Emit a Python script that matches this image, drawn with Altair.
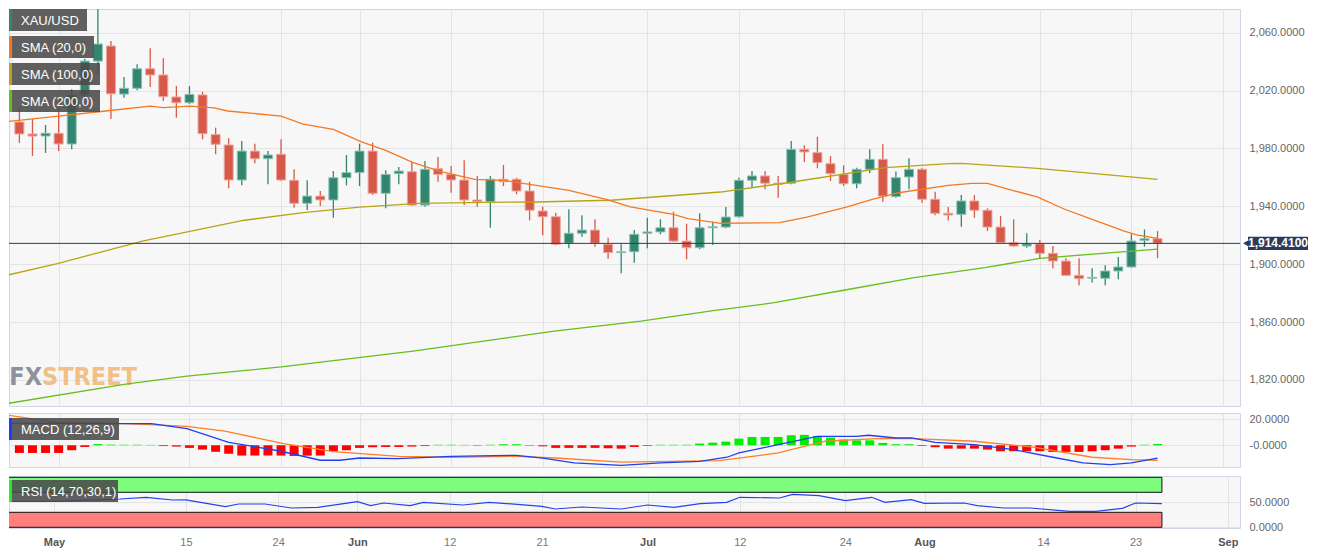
import altair as alt
import pandas as pd

# ---------------- data ----------------
sessions = pd.bdate_range("2023-04-26", "2023-08-25")
calendar = pd.bdate_range("2023-04-25", "2023-09-01")

opens = [1998.3, 1990.0, 1988.6, 1990.5, 1983.1, 2017.0, 2040.4, 2050.8, 2017.6, 2021.6,
         2035.1, 2030.8, 2015.6, 2011.6, 2017.0, 1989.6, 1982.4, 1958.2, 1978.2, 1972.9,
         1976.0, 1958.0, 1942.1, 1947.1, 1944.4, 1959.8, 1963.3, 1978.2, 1949.0, 1962.6,
         1963.9, 1940.9, 1966.0, 1962.1, 1958.2, 1944.4, 1943.2, 1958.7, 1958.7, 1950.6,
         1936.8, 1932.8, 1914.5, 1921.4, 1923.6, 1913.8, 1908.0, 1908.6, 1921.4, 1922.3,
         1925.2, 1916.0, 1911.4, 1925.2, 1925.7, 1932.8, 1958.0, 1961.0, 1956.0, 1956.0,
         1979.4, 1977.1, 1969.5, 1962.1, 1955.6, 1965.6, 1972.5, 1946.7, 1960.3, 1965.6,
         1944.9, 1935.2, 1934.5, 1943.7, 1937.3, 1925.7, 1914.9, 1912.6, 1914.1, 1907.5,
         1902.2, 1892.3, 1890.3, 1890.3, 1895.3, 1898.1, 1916.5, 1917.6]
highs = [2008.7, 2000.4, 1996.2, 2007.3, 2021.0, 2042.0, 2080.0, 2054.3, 2029.4, 2038.2,
         2049.2, 2042.3, 2023.2, 2023.2, 2019.2, 1994.4, 1987.0, 1985.2, 1983.3, 1978.2,
         1986.3, 1965.6, 1958.0, 1950.6, 1964.4, 1975.5, 1983.3, 1984.0, 1964.9, 1967.2,
         1970.8, 1971.3, 1974.1, 1967.9, 1971.8, 1961.0, 1961.0, 1968.6, 1959.8, 1957.0,
         1939.8, 1935.6, 1938.0, 1933.8, 1931.0, 1918.3, 1913.8, 1923.6, 1932.1, 1931.0,
         1936.3, 1928.0, 1935.2, 1929.4, 1939.5, 1959.8, 1964.4, 1964.4, 1961.0, 1985.2,
         1982.2, 1988.1, 1974.8, 1968.4, 1966.7, 1979.4, 1982.9, 1964.0, 1973.2, 1966.7,
         1950.0, 1939.5, 1947.8, 1947.8, 1938.6, 1933.3, 1931.0, 1921.4, 1916.7, 1912.6,
         1904.1, 1904.1, 1897.2, 1899.3, 1905.0, 1920.7, 1924.0, 1922.9]
lows = [1983.8, 1974.8, 1976.9, 1978.2, 1979.5, 2014.0, 2031.5, 2000.3, 2015.0, 2020.2,
        2022.5, 2012.8, 2001.3, 2010.7, 1986.3, 1976.0, 1952.5, 1954.5, 1969.7, 1955.2,
        1957.5, 1939.1, 1937.5, 1940.2, 1932.1, 1954.5, 1954.0, 1947.8, 1938.6, 1955.2,
        1940.2, 1939.8, 1957.0, 1949.4, 1940.9, 1939.8, 1925.2, 1954.0, 1948.3, 1930.3,
        1920.0, 1913.1, 1911.0, 1919.0, 1912.1, 1903.8, 1893.7, 1901.0, 1911.0, 1920.7,
        1915.5, 1903.4, 1910.3, 1913.3, 1924.8, 1932.1, 1952.9, 1951.8, 1946.0, 1955.2,
        1970.6, 1966.3, 1957.5, 1954.0, 1952.5, 1962.8, 1943.2, 1946.0, 1951.8, 1942.5,
        1933.8, 1930.3, 1925.9, 1932.1, 1922.9, 1914.5, 1912.1, 1911.4, 1904.1, 1897.2,
        1891.9, 1885.4, 1887.3, 1885.4, 1889.6, 1897.6, 1912.1, 1904.1]
closes = [1990.0, 1988.6, 1990.5, 1983.1, 2017.0, 2040.4, 2052.2, 2017.8, 2021.6, 2035.1,
          2030.8, 2015.8, 2011.6, 2017.4, 1990.2, 1982.9, 1958.2, 1978.2, 1972.9, 1975.5,
          1958.2, 1942.1, 1947.1, 1944.4, 1959.8, 1963.3, 1978.2, 1949.0, 1962.1, 1964.4,
          1940.9, 1965.6, 1962.1, 1958.2, 1944.4, 1943.2, 1958.7, 1957.0, 1950.6, 1937.3,
          1932.8, 1913.8, 1921.4, 1923.6, 1914.5, 1908.0, 1908.6, 1920.7, 1922.3, 1925.2,
          1916.0, 1911.4, 1925.2, 1925.9, 1932.6, 1958.0, 1961.0, 1956.0, 1955.2, 1979.4,
          1977.6, 1970.2, 1962.6, 1955.6, 1965.6, 1972.5, 1947.1, 1959.8, 1965.6, 1944.9,
          1935.2, 1934.0, 1943.7, 1937.3, 1925.7, 1914.9, 1912.6, 1914.1, 1907.5, 1902.2,
          1892.3, 1890.0, 1890.9, 1895.3, 1898.1, 1916.0, 1917.6, 1914.41]
last_price = 1914.41

sma20_t = [0, 4, 7.6, 11, 12, 14, 15.9, 16.9, 21, 22.7, 25, 27.1, 29, 31.1, 33.3, 35.8, 37.9, 40, 43, 46,
           47.7, 51, 52.1, 54.6, 59.1, 61.2, 64.2, 66.2, 68.2, 72, 73.8, 75, 77.1, 78.8, 80.9, 82.8, 85.4, 86.4, 88]
sma20_v = [1998.5, 2002.4, 2005.9, 2009.3, 2008.2, 2009.3, 2008.0, 2005.9, 2002.4, 1996.9,
           1993.2, 1984.7, 1978.7, 1970.2, 1963.9, 1958.7, 1958.0, 1955.2, 1951.1, 1944.4,
           1939.7, 1934.5, 1931.5, 1928.3, 1928.7, 1932.6, 1939.5, 1944.9, 1949.4, 1954.5,
           1955.9, 1955.9, 1950.6, 1946.5, 1938.0, 1931.7, 1923.0, 1920.2, 1917.9]
sma100_t = [0, 3.9, 10.4, 18.2, 22.7, 27.0, 31.6, 36.6, 40.4, 46.2, 54.6, 59.7, 67.2, 72, 73, 78.8, 82.6, 88]
sma100_v = [1892.3, 1900.4, 1916.0, 1930.4, 1935.6, 1939.5, 1942.1, 1942.8, 1943.0, 1944.2,
            1949.9, 1956.3, 1966.7, 1969.5, 1969.7, 1966.3, 1963.2, 1958.7]
sma200_t = [0, 9, 13.8, 21, 31.1, 41.9, 48.5, 53.9, 58.7, 64.0, 69.4, 74.8, 79, 88]
sma200_v = [1803.6, 1817.0, 1822.7, 1829.0, 1840.0, 1853.8, 1860.7, 1867.7, 1873.4, 1882.0,
            1890.7, 1897.6, 1904.1, 1910.5]

hist_v = [-5.9, -5.9, -5.9, -5.9, -3.8, -1.3, 1.0, 0.5, 0.4, 0.4, 0.3, -0.6, -1.0, -2.0, -3.3,
          -5.0, -6.5, -7.9, -7.9, -7.9, -7.9, -8.2, -8.0, -7.9, -4.6, -3.8, -2.0, -1.5, -1.3, -1.3,
          -1.0, -0.6, 0.4, 0.4, 0.3, -0.3, 0.4, 0.8, 0.8, -0.3, -0.8, -2.0, -2.0, -2.0, -2.0,
          -2.3, -2.6, -1.3, -0.5, 0.4, 0.4, 0.4, 1.3, 2.0, 2.8, 5.1, 6.4, 6.4, 6.4, 7.7,
          8.0, 7.2, 5.9, 4.4, 3.8, 3.8, 1.8, 0.8, 0.8, -0.5, -1.5, -2.6, -2.6, -2.6, -3.3,
          -4.6, -4.6, -4.6, -4.6, -5.1, -5.1, -5.1, -4.6, -3.8, -2.6, -1.0, 0.4, 1.0]
macd_t = [0, 8.7, 11.1, 13.8, 17, 21, 24, 25.5, 27, 29.9, 34, 39, 41, 43.4, 47, 50, 53, 55.1, 56, 59,
          62, 65, 65.9, 68, 69.2, 71, 74, 77, 80, 82.3, 84.4, 86, 88]
macd_v = [17.1, 16.6, 16.6, 12.8, 2.3, -4.6, -11.5, -11.5, -9.8, -10.3, -8.5, -7.7, -9.8, -13.6,
          -15.4, -13.6, -12.3, -9.2, -5.9, 0.5, 6.9, 6.9, 7.7, 5.6, 5.6, 2.3, 0.5, -3.4, -9.2,
          -13.6, -14.9, -13.6, -9.8]
signal_t = [0, 3.9, 9, 11.4, 13.8, 16.7, 21.2, 25, 30, 34, 39, 42, 47, 54.5, 59, 62.6, 66.5, 69.4,
            74, 78.5, 83, 86, 88]
signal_v = [23.3, 17.5, 16.6, 15.6, 14.5, 10.8, 1.3, -4.9, -8.5, -9.2, -8.5, -9.8, -13.0, -11.8,
            -5.9, 3.1, 5.1, 5.1, 3.1, -1.5, -9.2, -11.0, -11.5]
rsi_t = [0, 4, 9, 11, 13, 14, 17, 18, 20, 22, 24, 27, 28, 29, 31, 32, 35, 37, 41, 42, 44, 47, 49,
         51, 53, 55, 56, 59, 60, 62, 64, 66, 67, 69, 70, 73, 74, 76, 78, 81, 83, 85, 86, 88]
rsi_v = [52, 52, 56.6, 60, 54.6, 55, 41.3, 46.6, 46.6, 38.6, 40, 51.3, 43.3, 48.6, 43.3, 50, 44.6,
         50, 42, 36.6, 40.6, 36.6, 44.6, 40, 47.3, 50, 60, 58.6, 66, 63.3, 53.3, 60, 50, 55.3,
         48, 48.6, 43.3, 38.6, 38.6, 32, 32, 38, 48.6, 47.3]
rsi_levels = [30, 70]

tick_dates = ["2023-05-01", "2023-05-15", "2023-05-24", "2023-06-01", "2023-06-12", "2023-06-21",
              "2023-07-03", "2023-07-12", "2023-07-24", "2023-08-01", "2023-08-14", "2023-08-23",
              "2023-09-01"]
tick_labels = ["May", "15", "24", "Jun", "12", "21", "Jul", "12", "24", "Aug", "14", "23", "Sep"]
month_labels = ["May", "Jun", "Jul", "Aug", "Sep"]

price_ticks = list(range(1820, 2061, 20))

# ---------------- styling ----------------
FONT = "Liberation Sans"
WM_FONT = "'Liberation Sans Narrow', 'DejaVu Sans Condensed', 'Roboto Condensed', 'Liberation Sans', sans-serif"
W = 1231
H_P, H_M, H_R = 397, 54, 52
X_DOM = [0.588, 93.92]
P_DOM = [1802.0, 2076.4]
M_DOM = [-16.7, 24.8]
R_DOM = [-1.4, 102.6]
GRID = "#e4e4e4"
GREEN, RED = "#32866f", "#d6594a"
GREEN_EDGE, RED_EDGE = "#8fc2b4", "#eda79f"
ORANGE, OLIVE, LIME = "#f47a22", "#b7a514", "#66bf1a"
NAVY = "#2b3b5e"
BOX = "#4a4a4a"

t_idx = [calendar.get_loc(d) for d in sessions]
tick_pos = [calendar.get_loc(pd.Timestamp(d)) for d in tick_dates]
month_pos = [p for p, l in zip(tick_pos, tick_labels) if l in month_labels]

label_expr = "".join(f"datum.value == {p} ? '{l}' : " for p, l in zip(tick_pos, tick_labels)) + "''"
is_month = "indexof([" + ",".join(str(p) for p in month_pos) + "], datum.value) >= 0"

xs = alt.Scale(domain=X_DOM, nice=False, zero=False)


def x_axis(show):
    common = dict(values=tick_pos, grid=True, gridColor=GRID, ticks=False, domain=False, title=None)
    if show:
        return alt.Axis(labels=True, labelExpr=label_expr, labelFont=FONT, labelFontSize=11,
                        labelFlush=False, labelPadding=8,
                        labelFontWeight={"condition": {"test": is_month, "value": "bold"}, "value": "normal"},
                        labelColor={"condition": {"test": is_month, "value": "#555555"}, "value": "#777777"},
                        **common)
    return alt.Axis(labels=False, **common)


def y_axis(values, fmt=None, expr=None):
    kw = dict(orient="right", values=values, grid=True, gridColor=GRID, ticks=False, domain=False,
              labelPadding=9, labelFontSize=11, labelColor="#666666", labelFont=FONT, title=None)
    if fmt:
        kw["format"] = fmt
    if expr:
        kw["labelExpr"] = expr
    return alt.Axis(**kw)


one = pd.DataFrame({"k": [0]})


def legend_box(label, color, y0, w):
    box = alt.Chart(one).mark_rect(color=BOX, opacity=0.88).encode(
        x=alt.value(0), x2=alt.value(w), y=alt.value(y0), y2=alt.value(y0 + 22))
    strip = alt.Chart(one).mark_rect(color=color).encode(
        x=alt.value(0), x2=alt.value(3), y=alt.value(y0), y2=alt.value(y0 + 22))
    txt = alt.Chart(one).mark_text(align="left", baseline="middle", color="white", fontSize=13,
                                   font=FONT).encode(
        x=alt.value(12), y=alt.value(y0 + 11.5), text=alt.value(label))
    return [box, strip, txt]


# ---------------- price panel ----------------
cdf = pd.DataFrame({"t": t_idx, "open": opens, "high": highs, "low": lows, "close": closes})
up = cdf[cdf["close"] >= cdf["open"]]
dn = cdf[cdf["close"] < cdf["open"]]

X = alt.X("t:Q", scale=xs, axis=x_axis(False))
YP = alt.Y("low:Q", scale=alt.Scale(domain=P_DOM, nice=False, zero=False),
           axis=y_axis(price_ticks, fmt=",.4f"))

wm_fx = alt.Chart(one).mark_text(align="right", baseline="alphabetic", font=WM_FONT,
                                 fontWeight="bold", fontSize=25, color="#8c919b").encode(
    x=alt.value(33), y=alt.value(376), text=alt.value("FX"))
wm_st = alt.Chart(one).mark_text(align="left", baseline="alphabetic", font=WM_FONT,
                                 fontWeight="bold", fontSize=25, color="#f0c088").encode(
    x=alt.value(33), y=alt.value(376), text=alt.value("STREET"))


def candles(d, fill, edge):
    w = alt.Chart(d).mark_rule(strokeWidth=1.3, color=fill, clip=True).encode(x=X, y=YP, y2="high:Q")
    b = alt.Chart(d).mark_bar(width=9, strokeWidth=1, color=fill, stroke=edge, clip=True).encode(
        x=X, y="open:Q", y2="close:Q")
    return [w, b]


def line(ts, vs, color, width=1.3):
    return alt.Chart(pd.DataFrame({"t": ts, "v": vs})).mark_line(
        color=color, strokeWidth=width, clip=True).encode(x=X, y="v:Q")


pdf = pd.DataFrame({"p": [last_price]})
px_per_unit = H_P / (P_DOM[1] - P_DOM[0])
half = 6.6 / px_per_unit
pdf["top"] = pdf["p"] + half
pdf["bot"] = pdf["p"] - half

price_rule = alt.Chart(pdf).mark_rule(color=NAVY, strokeWidth=1).encode(y="p:Q")
price_box = alt.Chart(pdf).mark_rect(color=NAVY, clip=False).encode(
    x=alt.value(W + 8), x2=alt.value(W + 68), y="top:Q", y2="bot:Q")
price_arrow = alt.Chart(pdf).mark_point(shape="triangle-left", filled=True, size=45, color=NAVY,
                                        opacity=1, clip=False).encode(x=alt.value(W + 6), y="p:Q")
price_txt = alt.Chart(pdf).mark_text(color="white", fontWeight="bold", fontSize=12, font=FONT,
                                     align="center", baseline="middle", clip=False).encode(
    x=alt.value(W + 38), y="p:Q", text=alt.Text("p:Q", format=",.4f"))

legend_layers = []
for i, (lbl, c, w) in enumerate([("XAU/USD", GREEN, 78), ("SMA (20,0)", ORANGE, 85),
                                  ("SMA (100,0)", OLIVE, 91), ("SMA (200,0)", LIME, 91)]):
    legend_layers += legend_box(lbl, c, i * 27, w)

price = alt.layer(
    *candles(up, GREEN, GREEN_EDGE), *candles(dn, RED, RED_EDGE), wm_fx, wm_st,
    line(sma200_t, sma200_v, LIME), line(sma100_t, sma100_v, OLIVE), line(sma20_t, sma20_v, ORANGE),
    price_rule, price_box, price_arrow, price_txt, *legend_layers
).properties(width=W, height=H_P)

# ---------------- MACD panel ----------------
hdf = pd.DataFrame({"t": t_idx, "h": hist_v})
XM = alt.X("t:Q", scale=xs, axis=x_axis(False))
YM = alt.Y("h:Q", scale=alt.Scale(domain=M_DOM, nice=False, zero=False),
           axis=y_axis([0, 20], expr="datum.value == 0 ? '-0.0000' : format(datum.value, ',.4f')"))
hist_pos = alt.Chart(hdf[hdf["h"] >= 0]).mark_bar(width=9, color="#00ee00", clip=True).encode(
    x=XM, y=YM, y2=alt.datum(0))
hist_neg = alt.Chart(hdf[hdf["h"] < 0]).mark_bar(width=9, color="#ff0000", clip=True).encode(
    x=XM, y=YM, y2=alt.datum(0))


def mline(ts, vs, color):
    return alt.Chart(pd.DataFrame({"t": ts, "h": vs})).mark_line(
        color=color, strokeWidth=1.3, clip=True).encode(x=XM, y="h:Q")


macd = alt.layer(
    hist_pos, hist_neg, mline(signal_t, signal_v, "#ff7f27"), mline(macd_t, macd_v, "#2040f0"),
    *legend_box("MACD (12,26,9)", "#1a3cff", 5, 110)
).properties(width=W, height=H_M)

# ---------------- RSI panel ----------------
XR = alt.X("t:Q", scale=xs, axis=x_axis(True))
YR = alt.Y("v:Q", scale=alt.Scale(domain=R_DOM, nice=False, zero=False), axis=y_axis([0, 50], fmt=".4f"))
band_ob = pd.DataFrame({"t": [0], "t1": [t_idx[-1]], "v": [rsi_levels[1]], "v2": [100]})
band_os = pd.DataFrame({"t": [0], "t1": [t_idx[-1]], "v": [0], "v2": [rsi_levels[0]]})
ob = alt.Chart(band_ob).mark_rect(color="#7dfc7d", stroke="#111111", strokeWidth=1, clip=True).encode(
    x=XR, x2="t1:Q", y=YR, y2="v2:Q")
os_ = alt.Chart(band_os).mark_rect(color="#ff7f7f", stroke="#111111", strokeWidth=1, clip=True).encode(
    x=XR, x2="t1:Q", y=YR, y2="v2:Q")
rsi_line = alt.Chart(pd.DataFrame({"t": rsi_t, "v": rsi_v})).mark_line(
    color="#2343ee", strokeWidth=1.2, clip=True).encode(x=XR, y=YR)

rsi = alt.layer(
    ob, os_, rsi_line, *legend_box("RSI (14,70,30,1)", "#22ee22", 4, 109)
).properties(width=W, height=H_R)

chart = alt.vconcat(
    price, alt.vconcat(macd, rsi, spacing=7), spacing=5
).properties(padding=0, background="white").configure_view(
    fill="#f7f7f7", stroke="#cfd6e6", strokeWidth=1
)

chart.save("out.html", embed_options={"renderer": "svg", "actions": False})
